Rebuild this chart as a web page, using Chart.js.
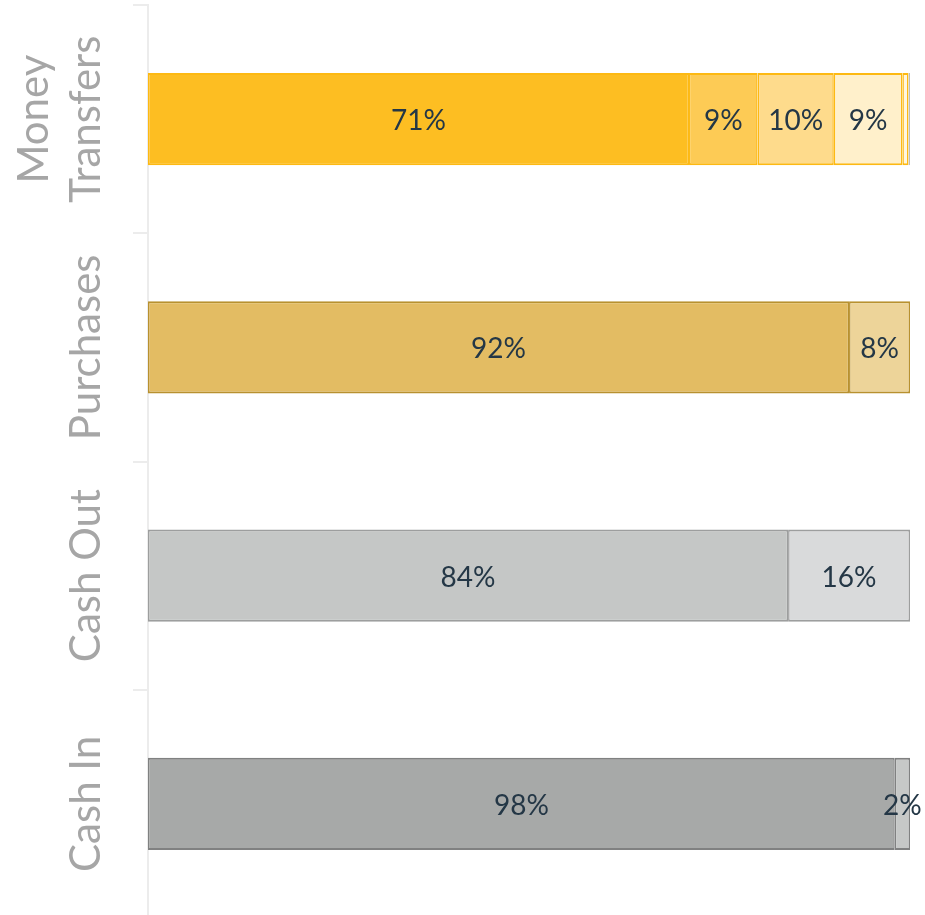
<!DOCTYPE html>
<html>
<head>
<meta charset="utf-8">
<script src="https://cdn.jsdelivr.net/npm/chart.js@4.4.0/dist/chart.umd.min.js"></script>
<style>
  body { margin: 0; overflow: hidden; background: #fff; }
  #wrap { width: 925px; height: 918px; position: relative; }
</style>
</head>
<body>
<div id="wrap"><canvas id="channelChart"></canvas></div>
<script>
// categories (top to bottom)
var categories = [['Money', 'Transfers'], ['Purchases'], ['Cash Out'], ['Cash In']];

// share of each segment, in %, per category
var seg1 = [71, 92, 84, 98];
var seg2 = [9, 8, 16, 2];
var seg3 = [10, null, null, null];
var seg4 = [9, null, null, null];
var seg5 = [0.8, null, null, null];
var seg6 = [0.2, null, null, null];

var borderCols = ['#FDB913', '#B8912F', '#9D9E9E', '#808181'];

var ctx = document.getElementById('channelChart');

// draws the % text in the middle of each segment
var segLabels = {
  id: 'segLabels',
  afterDatasetsDraw: function(chart) {
    var c = chart.ctx;
    c.save();
    c.font = '400 28px Lato';
    c.fillStyle = '#243746';
    c.textAlign = 'center';
    c.textBaseline = 'middle';
    chart.data.datasets.forEach(function(ds, i) {
      var meta = chart.getDatasetMeta(i);
      meta.data.forEach(function(bar, j) {
        var v = ds.data[j];
        if (v == null || v < 2) return;
        var p = bar.getCenterPoint();
        c.fillText(v + '%', p.x, p.y + 2);
      });
    });
    c.restore();
  }
};

// rotated category names beside the axis
var catLabels = {
  id: 'catLabels',
  afterDraw: function(chart) {
    var y = chart.scales.y;
    var c = chart.ctx;
    c.save();
    c.font = '400 42px Lato';
    c.fillStyle = '#a6a6a6';
    c.textAlign = 'center';
    c.textBaseline = 'alphabetic';
    categories.forEach(function(lines, i) {
      var py = y.getPixelForValue(i);
      c.save();
      c.translate(100, py);
      c.rotate(-Math.PI / 2);
      var n = lines.length;
      lines.forEach(function(t, k) {
        c.fillText(t, 0, -(n - 1 - k) * 52);
      });
      c.restore();
    });
    c.restore();
  }
};

new Chart(ctx, {
  type: 'bar',
  data: {
    labels: categories,
    datasets: [
      { data: seg1, backgroundColor: ['#FDBE22', '#E3BC63', '#C5C7C6', '#A7A9A8'], borderColor: borderCols },
      { data: seg2, backgroundColor: ['#FDCB55', '#EDD499', '#D9DADB', '#C6C8C7'], borderColor: borderCols },
      { data: seg3, backgroundColor: '#FEDB8C', borderColor: borderCols },
      { data: seg4, backgroundColor: '#FFF0CB', borderColor: borderCols },
      { data: seg5, backgroundColor: '#FFF6E0', borderColor: borderCols },
      { data: seg6, backgroundColor: '#C4C4C4', borderColor: '#BDBDBD' }
    ]
  },
  options: {
    indexAxis: 'y',
    responsive: true,
    maintainAspectRatio: false,
    animation: false,
    layout: { padding: { top: 5, right: 15, bottom: 0, left: 0 } },
    datasets: {
      bar: {
        borderWidth: { top: 2, bottom: 2, left: 1.5, right: 1.5 },
        borderSkipped: false,
        categoryPercentage: 1,
        barPercentage: 0.404
      }
    },
    plugins: {
      legend: { display: false },
      tooltip: { enabled: false }
    },
    scales: {
      x: {
        stacked: true,
        min: 0,
        max: 100,
        display: false
      },
      y: {
        stacked: true,
        afterFit: function(scale) { scale.width = 148; },
        ticks: { display: false },
        grid: {
          offset: true,
          drawOnChartArea: false,
          drawTicks: true,
          tickLength: 15,
          color: '#ececec',
          lineWidth: 2
        },
        border: { color: '#ececec', width: 2 }
      }
    }
  },
  plugins: [segLabels, catLabels]
});
</script>
</body>
</html>
